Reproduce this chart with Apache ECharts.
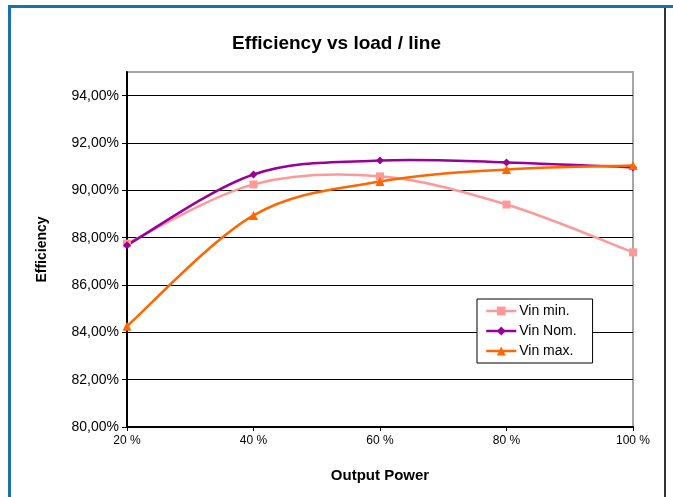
<!DOCTYPE html>
<html>
<head>
<meta charset="utf-8">
<script src="https://cdn.jsdelivr.net/npm/echarts@6/dist/echarts.min.js"></script>
<style>
html,body{margin:0;padding:0;background:#fff;}
#c{width:673px;height:497px;}
</style>
</head>
<body>
<div id="c"></div>
<script>
var loads = [20, 40, 60, 80, 100];
var vinMin = [87.75, 90.25, 90.59, 89.40, 87.38];
var vinNom = [87.68, 90.67, 91.26, 91.18, 90.97];
var vinMax = [84.26, 88.94, 90.37, 90.88, 91.05];
var yTicks = [80, 82, 84, 86, 88, 90, 92, 94];
var seriesNames = ['Vin min.', 'Vin Nom.', 'Vin max.'];
var seriesColors = ['#FF9999', '#990099', '#FF6600'];
var seriesSymbols = ['rect', 'diamond', 'triangle'];
var seriesValues = [vinMin, vinNom, vinMax];

function pairs(vals){ return loads.map(function(x,i){ return [x, vals[i]]; }); }

// Smooth curve (Catmull-Rom style, like a spreadsheet "smoothed line") through
// the data points, positioned with the chart's own axes via api.coord.
function curveRenderer(vals, color){
  return function(params, api){
    if (params.dataIndex !== 0) return null;
    var p = loads.map(function(x,i){ return api.coord([x, vals[i]]); });
    var n = p.length;
    var d = 'M' + p[0][0] + ' ' + p[0][1];
    for (var i = 0; i < n - 1; i++){
      var p0 = p[Math.max(i-1,0)], p1 = p[i], p2 = p[i+1], p3 = p[Math.min(i+2,n-1)];
      var c1x = p1[0] + (p2[0]-p0[0])/6, c1y = p1[1] + (p2[1]-p0[1])/6;
      var c2x = p2[0] - (p3[0]-p1[0])/6, c2y = p2[1] - (p3[1]-p1[1])/6;
      d += ' C' + c1x + ' ' + c1y + ' ' + c2x + ' ' + c2y + ' ' + p2[0] + ' ' + p2[1];
    }
    return {
      type: 'path',
      shape: {pathData: d},
      style: {fill: null, stroke: color, lineWidth: 2.5}
    };
  };
}

var chart = echarts.init(document.getElementById('c'));
var font = 'Arial, "Liberation Sans", sans-serif';

var series = [];
seriesNames.forEach(function(name, k){
  series.push({
    name: name + ' curve', type: 'custom', data: pairs(seriesValues[k]),
    renderItem: curveRenderer(seriesValues[k], seriesColors[k]),
    silent: true, z: 2 + k, clip: true
  });
});
seriesNames.forEach(function(name, k){
  series.push({
    name: name, type: 'line', data: pairs(seriesValues[k]),
    symbol: seriesSymbols[k], symbolSize: k === 2 ? 9 : 8,
    color: seriesColors[k],
    lineStyle: {width: 2.5, color: seriesColors[k], opacity: 0},
    itemStyle: {color: seriesColors[k]}, z: 6 + k
  });
});

chart.setOption({
  animation: false,
  backgroundColor: '#fff',
  title: {
    text: 'Efficiency vs load / line',
    left: 'center', top: 29,
    textStyle: {fontFamily: font, fontSize: 19, fontWeight: 'bold', color: '#000'}
  },
  legend: {
    orient: 'vertical',
    left: 477, top: 299,
    padding: [5, 16, 5, 8],
    itemGap: 6,
    itemWidth: 30, itemHeight: 11,
    backgroundColor: '#fff',
    borderColor: '#000', borderWidth: 1,
    textStyle: {fontFamily: font, fontSize: 14, color: '#000', padding: [0,0,0,-2]},
    data: seriesNames.map(function(name, k){
      return {name: name, lineStyle: {opacity: 1, color: seriesColors[k], width: 2.5}};
    })
  },
  grid: {
    left: 127, right: 40, top: 72, bottom: 70,
    show: true, borderColor: '#a6a6a6', borderWidth: 2
  },
  xAxis: {
    type: 'value', min: 20, max: 100, interval: 20,
    name: 'Output Power', nameLocation: 'middle', nameGap: 41,
    nameTextStyle: {fontFamily: font, fontSize: 15, fontWeight: 'bold', color: '#000'},
    axisLine: {show: true, onZero: false, lineStyle: {color: '#000', width: 2}},
    axisTick: {show: true, length: 4, lineStyle: {color: '#000'}},
    axisLabel: {fontFamily: font, fontSize: 12, color: '#000', margin: 8, formatter: '{value} %'},
    splitLine: {show: false}
  },
  yAxis: {
    type: 'value', min: 80, max: 95, interval: 2,
    name: 'Efficiency', nameLocation: 'middle', nameGap: 78,
    nameTextStyle: {fontFamily: font, fontSize: 14, fontWeight: 'bold', color: '#000'},
    axisLine: {show: true, lineStyle: {color: '#000', width: 2}},
    axisTick: {show: true, length: 5, customValues: yTicks, lineStyle: {color: '#000'}},
    axisLabel: {fontFamily: font, fontSize: 14, color: '#000', margin: 8, customValues: yTicks,
      formatter: function(v){ return v.toFixed(2).replace('.', ',') + '%'; }},
    splitLine: {show: true, lineStyle: {color: '#000', width: 1}}
  },
  series: series,
  graphic: [
    {type: 'rect', shape: {x: 8, y: 5, width: 665, height: 3}, style: {fill: '#1A72AA'}, silent: true},
    {type: 'rect', shape: {x: 8, y: 5, width: 3, height: 492}, style: {fill: '#1A72AA'}, silent: true},
    {type: 'rect', shape: {x: 664, y: 8, width: 2, height: 489}, style: {fill: '#333'}, silent: true}
  ]
});
</script>
</body>
</html>
